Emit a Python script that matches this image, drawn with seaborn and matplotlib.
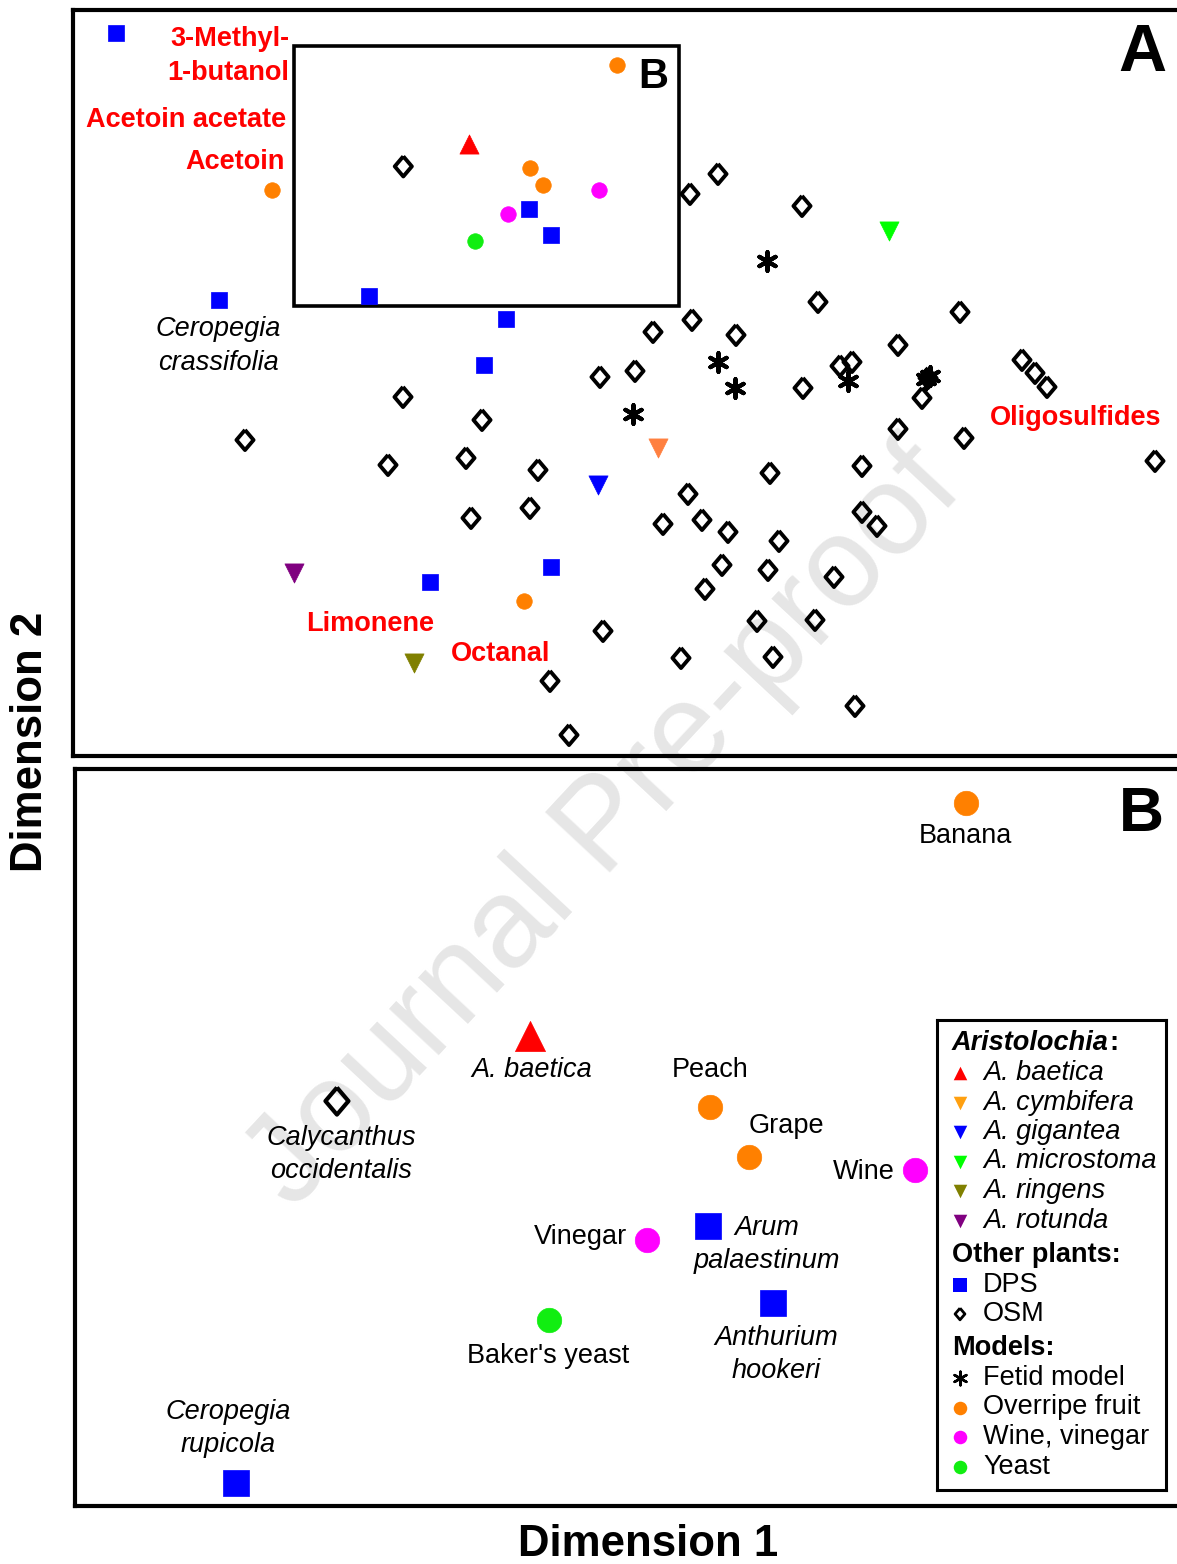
import numpy as np
import matplotlib
matplotlib.use("Agg")
import matplotlib.pyplot as plt
from matplotlib.patches import Rectangle
import seaborn as sns

# ---------------------------------------------------------------
# NMDS ordination scores (Dimension 1, Dimension 2)
# ---------------------------------------------------------------
# Other plants: deceptive pollination systems (DPS)
dps_d1 = [-5.10, -4.07, -1.20, -1.42, -1.96, -0.75, -0.969, -0.749, -2.569]
dps_d2 = [3.50, 0.83, 0.64, 0.18, -1.99, -1.84, 1.743, 1.482, 0.871]

# Other plants: other species measured (OSM)
osm_d1 = [-2.227, 0.64, 0.92, 1.76, 1.92, 3.34, 0.27, 0.66, 1.10, 2.72,
          2.14, 2.26, -0.26, 0.09, 1.77, 3.96, 4.09, 4.21, 2.96, 3.02,
          3.38, 2.72, -2.23, -3.81, -1.44, -2.38, -1.60, -0.88, 1.44, 2.36,
          0.62, -1.55, -0.96, 0.37, 0.76, 1.02, 1.53, 2.36, 2.51, 0.96,
          1.42, 0.79, 2.08, 1.31, 1.89, -0.23, 0.55, 1.47, -0.76, 2.29,
          -0.57, 5.29]
osm_d2 = [2.166, 1.89, 2.09, 1.77, 0.81, 0.71, 0.51, 0.63, 0.48, 0.38,
          0.17, 0.21, 0.06, 0.12, -0.05, 0.23, 0.10, -0.04, -0.15, 0.05,
          -0.55, -0.46, -0.14, -0.57, -0.37, -0.82, -0.75, -0.87, -0.90, -0.83,
          -1.11, -1.35, -1.25, -1.41, -1.37, -1.49, -1.58, -1.29, -1.43, -1.82,
          -1.87, -2.06, -1.94, -2.38, -2.37, -2.48, -2.75, -2.74, -2.98, -3.23,
          -3.52, -0.78]

# Models
fetid_d1 = [1.41, 0.92, 1.09, 0.07, 2.22, 3.00, 3.04]
fetid_d2 = [1.22, 0.21, -0.05, -0.31, 0.02, 0.04, 0.07]
fruit_d1 = [-3.54, -1.02, -0.095, -0.962, -0.830]
fruit_d2 = [1.93, -2.18, 3.176, 2.146, 1.976]
wine_d1 = [-0.268, -1.176]
wine_d2 = [1.932, 1.695]
yeast_d1 = [-1.508]
yeast_d2 = [1.424]

# Aristolochia species
baetica_d1, baetica_d2 = [-1.573], [2.387]
cymbifera_d1, cymbifera_d2 = [0.32], [-0.65]
gigantea_d1, gigantea_d2 = [-0.28], [-1.02]
microstoma_d1, microstoma_d2 = [2.63], [1.52]
ringens_d1, ringens_d2 = [-2.12], [-2.80]
rotunda_d1, rotunda_d2 = [-3.32], [-1.90]

# Region of panel A enlarged in panel B
inset_d1 = (-3.32, 0.53)
inset_d2 = (0.77, 3.37)

# Compound vectors drawn in panel A
compound_labels = ["3-Methyl-\n1-butanol", "Acetoin acetate", "Acetoin",
                   "Oligosulfides", "Limonene", "Octanal"]
compound_d1 = [-3.37, -3.40, -3.41, 3.64, -2.56, -1.25]
compound_d2 = [3.27, 2.63, 2.21, -0.35, -2.41, -2.71]
compound_ha = ["right", "right", "right", "left", "center", "center"]

# ---------------------------------------------------------------
W, H, DPI = 1177, 1564, 100
sns.set_theme(style="white")
plt.rcParams["font.family"] = ["Liberation Sans", "DejaVu Sans"]
plt.rcParams["text.color"] = "black"
plt.rcParams["axes.edgecolor"] = "black"

fig = plt.figure(figsize=(W / DPI, H / DPI), dpi=DPI)
fig.patch.set_facecolor("white")


def px_box(x0, y0, x1, y1):
    return [x0 / W, 1 - y1 / H, (x1 - x0) / W, (y1 - y0) / H]


PT = 72 / DPI  # points per pixel
FS = 19.5

axA = fig.add_axes(px_box(73, 10, 1185, 756))
axB = fig.add_axes(px_box(75, 769, 1180, 1506))

DIAMOND = [(0, 1), (0.85, 0), (0, -1), (-0.85, 0), (0, 1)]
ASTERISK = (6, 2, 0)

# name, d1, d2, style, size A, size B, linewidth A, linewidth B
groups = [
    ("OSM", osm_d1, osm_d2,
     dict(marker=DIAMOND, facecolor="none", edgecolor="black"), 210, 380, 2.8, 3.0),
    ("Fetid model", fetid_d1, fetid_d2,
     dict(marker=ASTERISK, color="black"), 180, 300, 3.0, 3.0),
    ("DPS", dps_d1, dps_d2,
     dict(marker="s", color="#0000ff", edgecolor="#0000ff"), 125, 330, 0.5, 0.5),
    ("Overripe fruit", fruit_d1, fruit_d2,
     dict(marker="o", color="#ff8000", edgecolor="#ff8000"), 125, 310, 0.5, 0.5),
    ("Wine, vinegar", wine_d1, wine_d2,
     dict(marker="o", color="#ff00ff", edgecolor="#ff00ff"), 125, 310, 0.5, 0.5),
    ("Yeast", yeast_d1, yeast_d2,
     dict(marker="o", color="#11ee11", edgecolor="#11ee11"), 125, 310, 0.5, 0.5),
    ("A. baetica", baetica_d1, baetica_d2,
     dict(marker="^", color="#ff0000", edgecolor="#ff0000"), 190, 470, 0.5, 0.5),
    ("A. cymbifera", cymbifera_d1, cymbifera_d2,
     dict(marker="v", color="#ff8040", edgecolor="#ff8040"), 190, 470, 0.5, 0.5),
    ("A. gigantea", gigantea_d1, gigantea_d2,
     dict(marker="v", color="#0000ff", edgecolor="#0000ff"), 190, 470, 0.5, 0.5),
    ("A. microstoma", microstoma_d1, microstoma_d2,
     dict(marker="v", color="#00ff00", edgecolor="#00ff00"), 190, 470, 0.5, 0.5),
    ("A. ringens", ringens_d1, ringens_d2,
     dict(marker="v", color="#808000", edgecolor="#808000"), 190, 470, 0.5, 0.5),
    ("A. rotunda", rotunda_d1, rotunda_d2,
     dict(marker="v", color="#800080", edgecolor="#800080"), 190, 470, 0.5, 0.5),
]

for name, d1, d2, style, sA, sB, lwA, lwB in groups:
    d1 = np.asarray(d1, float)
    d2 = np.asarray(d2, float)
    sns.scatterplot(x=d1, y=d2, ax=axA, s=sA, linewidth=lwA, legend=False,
                    zorder=3, **style)
    inside = ((d1 >= inset_d1[0]) & (d1 <= inset_d1[1]) &
              (d2 >= inset_d2[0]) & (d2 <= inset_d2[1]))
    if inside.any():
        sns.scatterplot(x=d1[inside], y=d2[inside], ax=axB, s=sB, linewidth=lwB,
                        legend=False, zorder=3, **style)

# ---- panel A decorations ----
axA.set_xlim((73 - 626) / 100, (1185 - 626) / 100)
axA.set_ylim((383 - 756) / 100, (383 - 10) / 100)
axA.add_patch(Rectangle((inset_d1[0], inset_d2[0]), inset_d1[1] - inset_d1[0],
                        inset_d2[1] - inset_d2[0], fill=False, lw=2.6,
                        edgecolor="black", zorder=2))
axA.text(0.27, 3.06, "B", fontsize=30, fontweight="bold", ha="center", va="center")
for lab, x, y, ha in zip(compound_labels, compound_d1, compound_d2, compound_ha):
    axA.text(x, y, lab, color="#ff0000", fontsize=FS, fontweight="bold",
             ha=ha, va="center", linespacing=1.35, zorder=4)
axA.annotate("Ceropegia\ncrassifolia", xy=(dps_d1[1], dps_d2[1]),
             xytext=(-1 * PT, -46 * PT), textcoords="offset points",
             ha="center", va="center", fontsize=FS, style="italic", linespacing=1.35)
axA.text(0.962, 0.941, "A", transform=axA.transAxes, fontsize=48,
         fontweight="bold", ha="center", va="center")

# ---- panel B labels ----
def tag(text, x, y, dx, dy, ha="center", italic=False):
    axB.annotate(text, xy=(x, y), xytext=(dx * PT, dy * PT),
                 textcoords="offset points", ha=ha, va="center", fontsize=FS,
                 style="italic" if italic else "normal", linespacing=1.35, zorder=4)

tag("Banana", fruit_d1[2], fruit_d2[2], 0, -33)
tag("Peach", fruit_d1[3], fruit_d2[3], 0, 37)
tag("Grape", fruit_d1[4], fruit_d2[4], 37, 31)
tag("Wine", wine_d1[0], wine_d2[0], -20, -2, ha="right")
tag("Vinegar", wine_d1[1], wine_d2[1], -20, 3, ha="right")
tag("Baker's yeast", yeast_d1[0], yeast_d2[0], -1, -36)
tag("A. baetica", baetica_d1[0], baetica_d2[0], 2, -34, italic=True)
tag("Calycanthus\noccidentalis", osm_d1[0], osm_d2[0], 4, -53, italic=True)
tag("Arum\npalaestinum", dps_d1[6], dps_d2[6], 59, -19, italic=True)
tag("Anthurium\nhookeri", dps_d1[7], dps_d2[7], 3, -52, italic=True)
tag("Ceropegia\nrupicola", dps_d1[8], dps_d2[8], -8, 54, italic=True)

axB.set_xlim(-3.115, 0.631)
axB.set_ylim(0.793, 3.292)
axB.text(0.965, 0.9376, "B", transform=axB.transAxes, fontsize=45,
         fontweight="bold", ha="center", va="center")

for ax in (axA, axB):
    ax.set_facecolor("none")
    ax.set_xticks([])
    ax.set_yticks([])
    ax.set_xlabel("")
    ax.set_ylabel("")
    for side, sp in ax.spines.items():
        sp.set_linewidth(3.0)
        sp.set_color("black")
        sp.set_visible(side != "right")

# ---- legend ----
axL = fig.add_axes(px_box(937, 1020, 1166, 1490))
axL.set_xlim(0, 229)
axL.set_ylim(470, 0)
axL.set_xticks([])
axL.set_yticks([])
axL.set_facecolor("white")
for sp in axL.spines.values():
    sp.set_linewidth(2.2)
    sp.set_color("black")
axL.set_zorder(5)

legend_rows = [
    ("header", "Aristolochia", None),
    ("item", "A. baetica", dict(marker="^", color="#ff0000")),
    ("item", "A. cymbifera", dict(marker="v", color="#ffa010")),
    ("item", "A. gigantea", dict(marker="v", color="#0000ff")),
    ("item", "A. microstoma", dict(marker="v", color="#00ff00")),
    ("item", "A. ringens", dict(marker="v", color="#808000")),
    ("item", "A. rotunda", dict(marker="v", color="#800080")),
    ("header", "Other plants:", None),
    ("item", "DPS", dict(marker="s", color="#0000ff")),
    ("item", "OSM", dict(marker=DIAMOND, facecolor="none", edgecolor="black",
                         linewidth=2.0, s=70)),
    ("header", "Models:", None),
    ("item", "Fetid model", dict(marker=ASTERISK, color="black", linewidth=1.8)),
    ("item", "Overripe fruit", dict(marker="o", color="#ff8000")),
    ("item", "Wine, vinegar", dict(marker="o", color="#ff00ff")),
    ("item", "Yeast", dict(marker="o", color="#11ee11")),
]

y = 23.0
prev = None
for kind, label, spec in legend_rows:
    if prev is not None:
        y += 34.0 if kind == "header" else (30.0 if prev == "header" else 29.5)
    if kind == "header":
        if label == "Aristolochia":
            t = axL.text(15, y, label, fontsize=FS, fontweight="bold",
                         style="italic", ha="left", va="center")
            axL.annotate(":", xy=(1, 0), xycoords=t, ha="left", va="bottom",
                         fontsize=FS, fontweight="bold")
        else:
            axL.text(15, y, label, fontsize=FS, fontweight="bold",
                     ha="left", va="center")
    else:
        kw = dict(spec)
        kw.setdefault("linewidth", 0)
        kw.setdefault("s", 95)
        axL.scatter([23], [y], **kw)
        axL.text(46, y, label, fontsize=FS, ha="left", va="center",
                 style="italic" if label.startswith("A. ") else "normal")
    prev = kind

# ---- axis titles ----
fig.text(31 / W, 1 - 742 / H, "Dimension 2", rotation=90, fontsize=31.5,
         fontweight="bold", ha="center", va="center")
fig.text(648 / W, 1 - 1545 / H, "Dimension 1", fontsize=31.5,
         fontweight="bold", ha="center", va="center")

# ---- watermark ----
fig.text(605 / W, 1 - 828 / H, "Journal Pre-proof", fontsize=92, color="#e6e6e6",
         rotation=47, rotation_mode="anchor", ha="center", va="center", zorder=-1)

fig.savefig("out.png", dpi=DPI, facecolor="white")
